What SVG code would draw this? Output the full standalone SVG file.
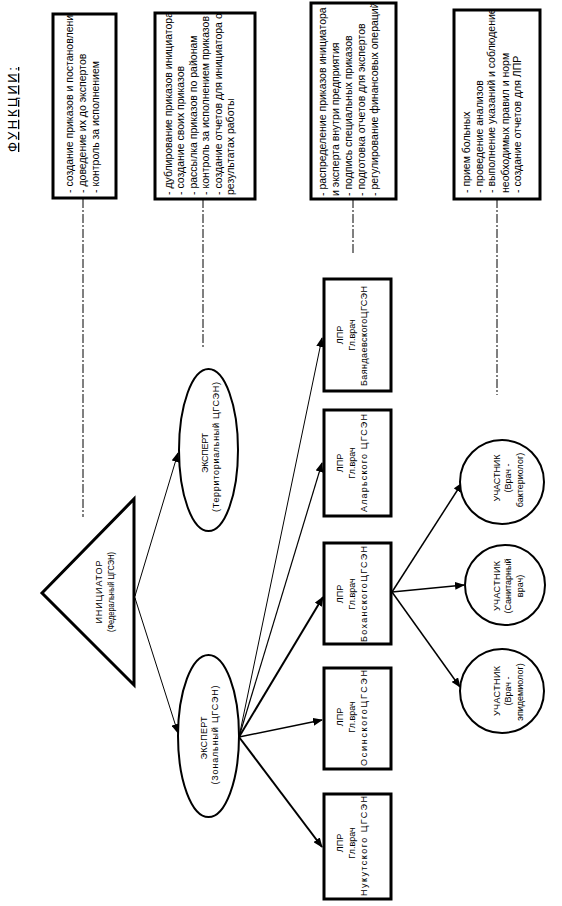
<svg xmlns="http://www.w3.org/2000/svg" width="562" height="906" viewBox="0 0 562 906">
<style>
text{font-family:"Liberation Sans",Arial,sans-serif;fill:#000}
.fn{font-size:10.5px}
.nd{font-size:9px;text-anchor:middle}
.box{fill:#fff;stroke:#000;stroke-width:3}
.shape{fill:#fff;stroke:#000;stroke-width:2}
.dash{stroke:#000;stroke-width:1;stroke-dasharray:9 2 2 2;fill:none}
.ln{stroke:#000;fill:none}
</style>
<defs>
<marker id="ah" markerUnits="userSpaceOnUse" markerWidth="10" markerHeight="8" refX="9" refY="4" orient="auto"><path d="M0,0 L10,4 L0,8 Z" fill="#000"/></marker>
<clipPath id="c1"><rect x="53" y="15" width="63" height="183"/></clipPath>
<clipPath id="c2"><rect x="155" y="14" width="100" height="184"/></clipPath>
<clipPath id="c3"><rect x="311" y="4" width="85" height="194"/></clipPath>
<clipPath id="c4"><rect x="454" y="11" width="86" height="187"/></clipPath>
</defs>
<rect width="562" height="906" fill="#fff"/>
<text transform="translate(17,152) rotate(-90)" font-size="13" textLength="85" lengthAdjust="spacing" text-decoration="underline">ФУНКЦИИ:</text>
<g id="dashes">
<line class="dash" x1="83" y1="199" x2="83" y2="517"/>
<line class="dash" x1="203" y1="199" x2="203" y2="347"/>
<line class="dash" x1="353" y1="199" x2="353" y2="255"/>
<line class="dash" x1="497" y1="199" x2="497" y2="395"/>
</g>
<g id="func1">
<rect class="box" x="53" y="14" width="63" height="184"/>
<g clip-path="url(#c1)" class="fn">
<text transform="translate(73,193) rotate(-90)">- создание приказов и постановлений</text>
<text transform="translate(86,193) rotate(-90)">- доведение их до  экспертов</text>
<text transform="translate(99,193) rotate(-90)">- контроль за  исполнением</text>
</g>
</g>
<g id="func2">
<rect class="box" x="155" y="13" width="100" height="186"/>
<g clip-path="url(#c2)" class="fn">
<text transform="translate(172,195) rotate(-90)">- дублирование приказов инициатора</text>
<text transform="translate(184.4,195) rotate(-90)">- создание своих приказов</text>
<text transform="translate(196.8,195) rotate(-90)">- рассылка приказов по районам</text>
<text transform="translate(209.2,195) rotate(-90)">- контроль за исполнением приказов</text>
<text transform="translate(221.6,195) rotate(-90)">- создание отчетов для инициатора о</text>
<text transform="translate(234,195) rotate(-90)">результатах работы</text>
</g>
</g>
<g id="func3">
<rect class="box" x="311" y="3" width="85" height="196"/>
<g clip-path="url(#c3)" class="fn">
<text transform="translate(326,196) rotate(-90)">- распределение приказов инициатора</text>
<text transform="translate(339,196) rotate(-90)">и эксперта внутри предприятия</text>
<text transform="translate(352,196) rotate(-90)">- подпись специальных приказов</text>
<text transform="translate(365,196) rotate(-90)">- подготовка отчетов для экспертов</text>
<text transform="translate(378,196) rotate(-90)">- регулирование финансовых операций</text>
</g>
</g>
<g id="func4">
<rect class="box" x="454" y="10" width="86" height="189"/>
<g clip-path="url(#c4)" class="fn">
<text transform="translate(470,193) rotate(-90)">- прием больных</text>
<text transform="translate(482.5,193) rotate(-90)">- проведение анализов</text>
<text transform="translate(495,193) rotate(-90)">- выполнение указаний и соблюдение</text>
<text transform="translate(508.5,193) rotate(-90)">необходимых правил  и норм</text>
<text transform="translate(521,193) rotate(-90)">- создание отчетов для ЛПР</text>
</g>
</g>
<g id="connectors">
<line class="ln" stroke-width="1" x1="135" y1="596" x2="178" y2="453" marker-end="url(#ah)"/>
<line class="ln" stroke-width="1" x1="135" y1="598" x2="178" y2="733" marker-end="url(#ah)"/>
<line class="ln" stroke-width="1" x1="239" y1="737" x2="322" y2="338" marker-end="url(#ah)"/>
<line class="ln" stroke-width="1.2" x1="239" y1="737" x2="322" y2="463" marker-end="url(#ah)"/>
<line class="ln" stroke-width="2" x1="239" y1="737" x2="323" y2="597" marker-end="url(#ah)"/>
<line class="ln" stroke-width="1.5" x1="239" y1="737" x2="322" y2="720" marker-end="url(#ah)"/>
<line class="ln" stroke-width="2" x1="239" y1="737" x2="322" y2="847" marker-end="url(#ah)"/>
<line class="ln" stroke-width="1.5" x1="392" y1="592" x2="462" y2="483" marker-end="url(#ah)"/>
<line class="ln" stroke-width="1.5" x1="392" y1="592" x2="464" y2="585" marker-end="url(#ah)"/>
<line class="ln" stroke-width="1.5" x1="392" y1="592" x2="460" y2="687" marker-end="url(#ah)"/>
</g>
<g id="initiator">
<path d="M42,593 L134,499 L134,685 Z" fill="#fff" stroke="#000" stroke-width="3" stroke-linejoin="miter"/>
<text class="nd" transform="translate(102,592) rotate(-90)" textLength="63" lengthAdjust="spacing">ИНИЦИАТОР</text>
<text class="nd" font-size="8" transform="translate(114,592) rotate(-90)" textLength="80" lengthAdjust="spacingAndGlyphs">(Федеральный ЦГСЭН)</text>
</g>
<g id="expert-territorial">
<ellipse class="shape" cx="208.5" cy="450" rx="29.5" ry="81"/>
<text class="nd" transform="translate(208,453) rotate(-90)" textLength="40" lengthAdjust="spacing">ЭКСПЕРТ</text>
<text class="nd" transform="translate(219,447) rotate(-90)" textLength="130" lengthAdjust="spacing">(Территориальный ЦГСЭН)</text>
</g>
<g id="expert-zonal">
<ellipse class="shape" cx="208.5" cy="736" rx="30.5" ry="81"/>
<text class="nd" transform="translate(207,738) rotate(-90)" textLength="43" lengthAdjust="spacing">ЭКСПЕРТ</text>
<text class="nd" transform="translate(218,735) rotate(-90)" textLength="99" lengthAdjust="spacing">(Зональный ЦГСЭН)</text>
</g>
<g id="lpr-bayandai">
<rect class="box" x="324" y="279" width="67" height="112"/>
<text class="nd" transform="translate(343,335) rotate(-90)">ЛПР</text>
<text class="nd" transform="translate(355,335) rotate(-90)">Гл.врач</text>
<text class="nd" transform="translate(367,336) rotate(-90)" textLength="100" lengthAdjust="spacing">БаяндаевскогоЦГСЭН</text>
</g>
<g id="lpr-alar">
<rect class="box" x="324" y="410" width="67" height="106"/>
<text class="nd" transform="translate(343,463) rotate(-90)">ЛПР</text>
<text class="nd" transform="translate(355,463) rotate(-90)">Гл.врач</text>
<text class="nd" transform="translate(367,463) rotate(-90)" textLength="98" lengthAdjust="spacing">Аларьского ЦГСЭН</text>
</g>
<g id="lpr-bokhan">
<rect class="box" x="324" y="543" width="67" height="101"/>
<text class="nd" transform="translate(343,594) rotate(-90)">ЛПР</text>
<text class="nd" transform="translate(355,594) rotate(-90)">Гл.врач</text>
<text class="nd" transform="translate(367,594) rotate(-90)" textLength="96" lengthAdjust="spacing">БоханскогоЦГСЭН</text>
</g>
<g id="lpr-osinsk">
<rect class="box" x="324" y="668" width="67" height="101"/>
<text class="nd" transform="translate(343,717) rotate(-90)">ЛПР</text>
<text class="nd" transform="translate(355,717) rotate(-90)">Гл.врач</text>
<text class="nd" transform="translate(367,718) rotate(-90)" textLength="96" lengthAdjust="spacing">ОсинскогоЦГСЭН</text>
</g>
<g id="lpr-nukut">
<rect class="box" x="324" y="794" width="67" height="105"/>
<text class="nd" transform="translate(343,843) rotate(-90)">ЛПР</text>
<text class="nd" transform="translate(355,843) rotate(-90)">Гл.врач</text>
<text class="nd" transform="translate(367,846) rotate(-90)" textLength="100" lengthAdjust="spacing">Нукутского ЦГСЭН</text>
</g>
<g id="participant-bacteriologist">
<circle class="shape" cx="502" cy="482" r="42"/>
<text class="nd" transform="translate(500,478) rotate(-90)" textLength="47" lengthAdjust="spacing">УЧАСТНИК</text>
<text class="nd" transform="translate(511,478) rotate(-90)">(Врач -</text>
<text class="nd" transform="translate(523,480) rotate(-90)">бактериолог)</text>
</g>
<g id="participant-sanitary">
<circle class="shape" cx="505" cy="585" r="40"/>
<text class="nd" transform="translate(500,586) rotate(-90)" textLength="50" lengthAdjust="spacing">УЧАСТНИК</text>
<text class="nd" transform="translate(511,586) rotate(-90)">(Санитарный</text>
<text class="nd" transform="translate(523,586) rotate(-90)">врач)</text>
</g>
<g id="participant-epidemiologist">
<circle class="shape" cx="502" cy="691" r="42"/>
<text class="nd" transform="translate(500,691) rotate(-90)" textLength="50" lengthAdjust="spacing">УЧАСТНИК</text>
<text class="nd" transform="translate(511,691) rotate(-90)">(Врач -</text>
<text class="nd" transform="translate(523,692) rotate(-90)">эпидемиолог)</text>
</g>
</svg>
